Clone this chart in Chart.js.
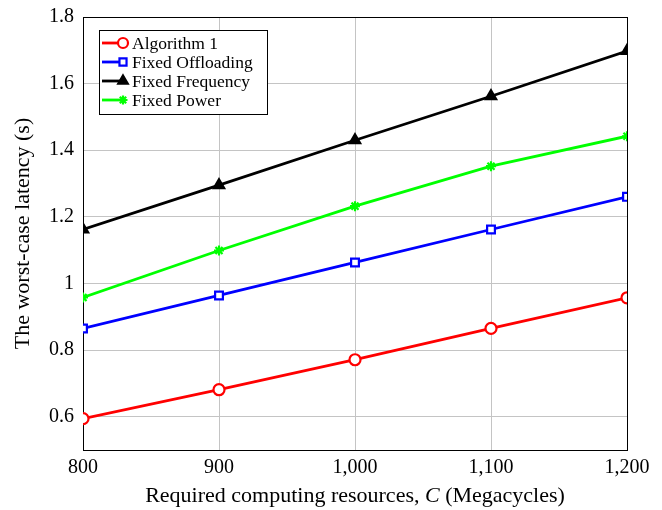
<!DOCTYPE html>
<html>
<head>
<meta charset="utf-8">
<script src="https://cdn.jsdelivr.net/npm/chart.js@4/dist/chart.umd.min.js"></script>
<style>
  html, body { margin: 0; padding: 0; background: #fff; }
</style>
</head>
<body>
<canvas id="latency" width="662" height="510"></canvas>
<script>
// Data
const resources = [800, 900, 1000, 1100, 1200];
const algorithm1 = [0.594, 0.681, 0.771, 0.865, 0.957];
const fixedOffloading = [0.865, 0.964, 1.063, 1.162, 1.260];
const fixedFrequency = [1.162, 1.295, 1.430, 1.562, 1.698];
const fixedPower = [0.958, 1.099, 1.232, 1.352, 1.442];
const xTicks = [800, 900, 1000, 1100, 1200];
const xTickLabels = ['800', '900', '1,000', '1,100', '1,200'];
const yTicks = [0.6, 0.8, 1.0, 1.2, 1.4, 1.6, 1.8];
const yTickLabels = ['0.6', '0.8', '1', '1.2', '1.4', '1.6', '1.8'];

const FONT = "'Liberation Serif', 'DejaVu Serif', serif";

const toPoints = (ys) => ys.map((y, i) => ({x: resources[i], y: y}));

const series = (label, ys, color, style, fill, radius) => ({
    label: label,
    data: toPoints(ys),
    borderColor: color,
    backgroundColor: color,
    borderWidth: 2.8,
    pointStyle: style,
    pointRadius: radius,
    pointBorderWidth: 2.2,
    pointBorderColor: color,
    pointBackgroundColor: fill,
    tension: 0
});

// frame around plot, x title with italic C, legend box inside plot
const framePlugin = {
    id: 'frame',
    beforeDatasetsDraw(chart) {
        const {ctx, chartArea: a} = chart;
        ctx.save();
        ctx.strokeStyle = '#000';
        ctx.lineWidth = 1;
        ctx.strokeRect(a.left + 0.5, a.top + 0.5, a.right - a.left, a.bottom - a.top);

        // x axis title
        const parts = [
            ['Required computing resources, ', ''],
            ['C', 'italic '],
            [' (Megacycles)', '']
        ];
        let total = 0;
        parts.forEach(p => { ctx.font = p[1] + '22px ' + FONT; total += ctx.measureText(p[0]).width; });
        let x = (a.left + a.right) / 2 - total / 2;
        ctx.fillStyle = '#000';
        ctx.textBaseline = 'middle';
        ctx.textAlign = 'left';
        parts.forEach(p => {
            ctx.font = p[1] + '22px ' + FONT;
            ctx.fillText(p[0], x, 496);
            x += ctx.measureText(p[0]).width;
        });
        ctx.restore();
    },
    afterDatasetsDraw(chart) {
        const {ctx, chartArea: a} = chart;
        const bx = a.left + 16, by = a.top + 13, bw = 168, bh = 84;
        ctx.save();
        ctx.fillStyle = '#fff';
        ctx.fillRect(bx, by, bw, bh);
        ctx.strokeStyle = '#000';
        ctx.lineWidth = 1;
        ctx.strokeRect(bx + 0.5, by + 0.5, bw, bh);
        ctx.font = "17.5px " + FONT;
        ctx.textBaseline = 'middle';
        chart.data.datasets.forEach((ds, i) => {
            const y = by + 13 + i * 19;
            ctx.strokeStyle = ds.borderColor;
            ctx.lineWidth = 2.8;
            ctx.beginPath();
            ctx.moveTo(bx + 3, y);
            ctx.lineTo(bx + 23, y);
            ctx.stroke();
            ctx.fillStyle = ds.pointBackgroundColor;
            ctx.lineWidth = 2.2;
            Chart.helpers.drawPoint(ctx, {
                pointStyle: ds.pointStyle,
                radius: ds.pointRadius - 0.5,
                borderWidth: 2.2,
                rotation: 0
            }, bx + 24, y);
            ctx.fillStyle = '#000';
            ctx.fillText(ds.label, bx + 33, y + 1);
        });
        ctx.restore();
    }
};

new Chart('latency', {
    type: 'line',
    data: {
        datasets: [
            series('Algorithm 1', algorithm1, '#ff0000', 'circle', '#fff', 5.5),
            series('Fixed Offloading', fixedOffloading, '#0000ff', 'rect', '#fff', 5.5),
            series('Fixed Frequency', fixedFrequency, '#000000', 'triangle', '#000', 6),
            series('Fixed Power', fixedPower, '#00ff00', 'star', '#00ff00', 5)
        ]
    },
    options: {
        responsive: false,
        animation: false,
        layout: { padding: { top: 17, right: 35, left: 0, bottom: 0 } },
        plugins: { legend: { display: false }, tooltip: { enabled: false } },
        scales: {
            x: {
                type: 'linear',
                min: 800,
                max: 1200,
                afterBuildTicks: (s) => { s.ticks = xTicks.map(v => ({value: v})); },
                afterFit: (s) => { s.height = 60; s.paddingLeft = 0; s.paddingRight = 0; },
                grid: { color: '#c4c4c4', lineWidth: 1, drawTicks: false },
                border: { display: false },
                ticks: {
                    padding: 6,
                    color: '#000',
                    font: { family: FONT, size: 20 },
                    maxRotation: 0,
                    callback: (v) => xTickLabels[xTicks.indexOf(v)]
                }
            },
            y: {
                min: 0.5,
                max: 1.8,
                afterBuildTicks: (s) => { s.ticks = yTicks.map(v => ({value: v})); },
                afterFit: (s) => { s.width = 83; s.paddingTop = 0; s.paddingBottom = 0; },
                grid: { color: '#c4c4c4', lineWidth: 1, drawTicks: false },
                border: { display: false },
                ticks: {
                    padding: 9,
                    color: '#000',
                    font: { family: FONT, size: 20 },
                    callback: (v) => yTickLabels[yTicks.findIndex(t => Math.abs(t - v) < 1e-9)]
                },
                title: {
                    display: true,
                    text: 'The worst-case latency (s)',
                    color: '#000',
                    font: { family: FONT, size: 22 },
                    padding: { top: 10, bottom: 0 }
                }
            }
        }
    },
    plugins: [framePlugin]
});
</script>
</body>
</html>
